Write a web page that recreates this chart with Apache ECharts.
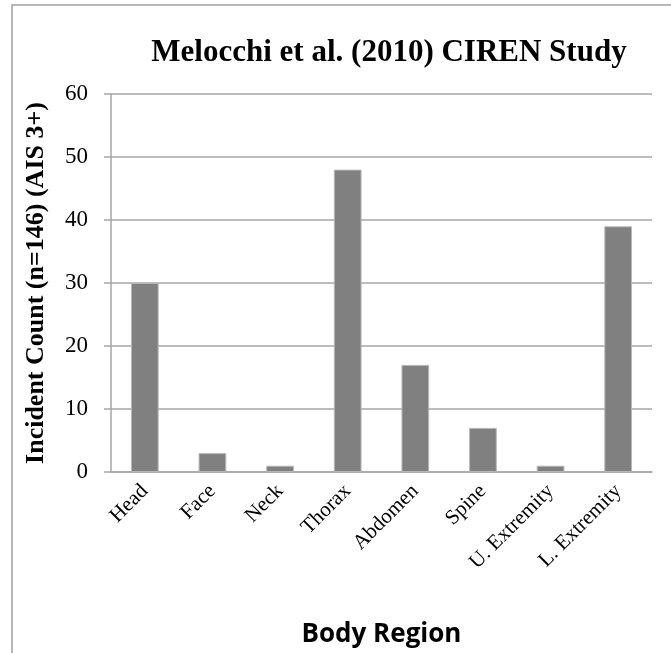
<!DOCTYPE html>
<html>
<head>
<meta charset="utf-8">
<script src="https://cdn.jsdelivr.net/npm/echarts@6/dist/echarts.min.js"></script>
<style>
  html, body { margin: 0; padding: 0; background: #fff; }
  #chart { width: 671px; height: 653px; }
</style>
</head>
<body>
<div id="chart"></div>
<script>
// data
const regions = ['Head', 'Face', 'Neck', 'Thorax', 'Abdomen', 'Spine', 'U. Extremity', 'L. Extremity']
const counts = [30, 3, 1, 48, 17, 7, 1, 39]

const serif = '"Liberation Serif", "Times New Roman", serif'
const gridGray = '#a6a6a6'

const chart = echarts.init(document.getElementById('chart'), null, { renderer: 'canvas' })

chart.setOption({
  animation: false,
  backgroundColor: '#fff',
  title: {
    text: 'Melocchi et al. (2010) CIREN Study',
    left: 384,
    top: 32,
    textAlign: 'center',
    textStyle: {
      fontFamily: serif,
      fontWeight: 'bold',
      fontSize: 31,
      color: '#000'
    }
  },
  graphic: [{
    type: 'polyline',
    shape: { points: [[12, 653], [12, 5], [671, 5]] },
    style: { stroke: '#a0a0a0', lineWidth: 1.5, fill: null }
  }],
  grid: {
    left: 111,
    right: 19,
    top: 94,
    bottom: 181
  },
  xAxis: {
    type: 'category',
    data: regions,
    name: 'Body Region',
    nameLocation: 'middle',
    nameGap: 150,
    nameTextStyle: {
      fontFamily: '"Open Sans", "Noto Sans", sans-serif',
      fontWeight: 'bold',
      fontSize: 26,
      color: '#000'
    },
    axisLine: { lineStyle: { color: gridGray, width: 1.5 } },
    axisTick: { length: 6, lineStyle: { color: gridGray, width: 1.5 } },
    axisLabel: {
      rotate: 45,
      interval: 0,
      margin: 16,
      fontFamily: serif,
      fontSize: 21,
      color: '#000'
    }
  },
  yAxis: {
    type: 'value',
    min: 0,
    max: 60,
    interval: 10,
    name: 'Incident Count (n=146) (AIS 3+)',
    nameLocation: 'middle',
    nameGap: 62,
    nameTextStyle: {
      fontFamily: serif,
      fontWeight: 'bold',
      fontSize: 26,
      color: '#000'
    },
    axisLine: { show: true, lineStyle: { color: gridGray, width: 1.5 } },
    axisTick: { show: true, length: 7, lineStyle: { color: gridGray, width: 1.5 } },
    splitLine: { lineStyle: { color: gridGray, width: 1.5 } },
    axisLabel: {
      margin: 23,
      fontFamily: serif,
      fontSize: 23,
      color: '#000'
    }
  },
  series: [{
    type: 'bar',
    data: counts,
    barWidth: '41%',
    itemStyle: {
      color: '#808080',
      borderColor: '#b8b8b8',
      borderWidth: 1
    }
  }]
})
</script>
</body>
</html>
